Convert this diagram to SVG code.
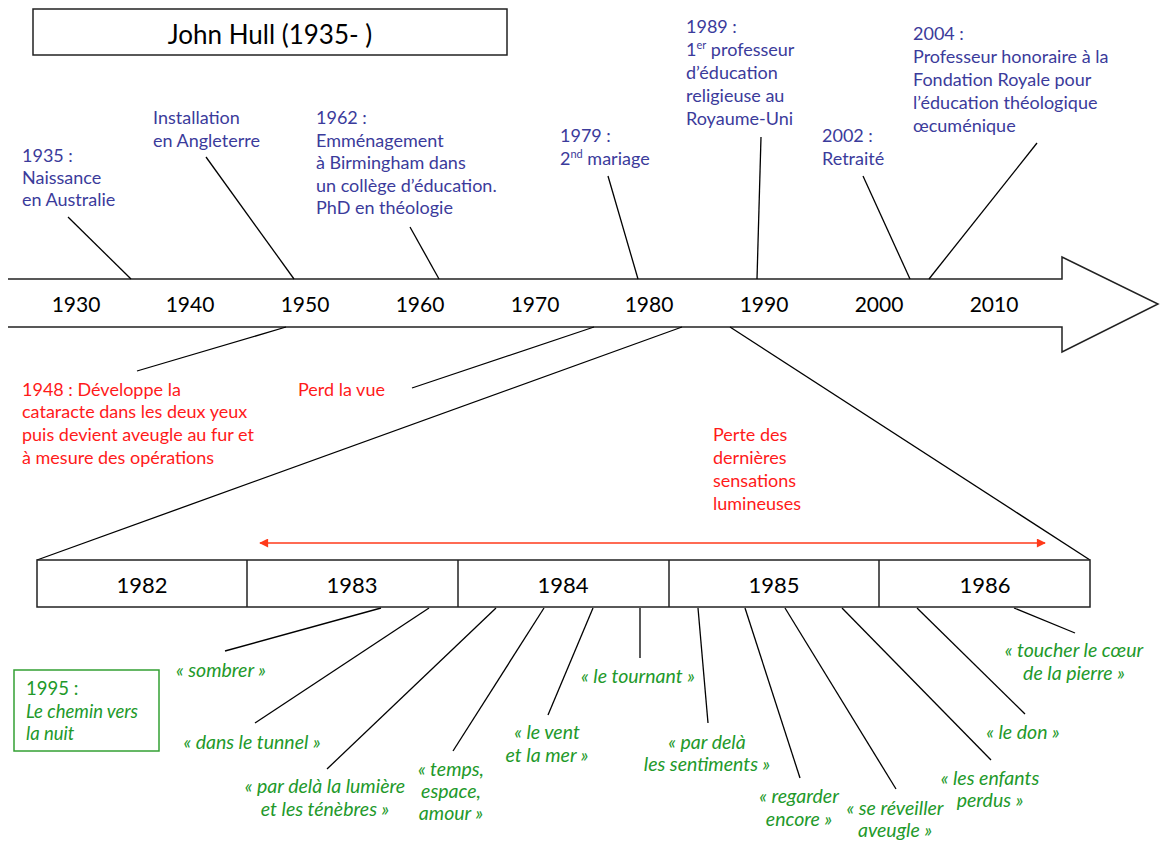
<svg xmlns="http://www.w3.org/2000/svg" width="1160" height="841" viewBox="0 0 1160 841">
<style>
text{font-family:Lato,"Liberation Sans",sans-serif}
.title{font-size:26px;fill:#000}
.yr{font-size:21px;fill:#000;text-anchor:middle}
.yr2{font-size:22px;fill:#000;text-anchor:middle}
.blue{font-size:18px;fill:#3b3b9b}
.red{font-size:18px;fill:#ff1a1a}
.green{font-size:19.5px;fill:#22992a;font-style:italic;text-anchor:middle}
.greenb{font-size:18.5px;fill:#22992a}
.sup{font-size:11px}
.ln{stroke:#000;stroke-width:1.3;fill:none}
.box{stroke:#222;stroke-width:1.5;fill:#fff}
</style>
<defs>
<marker id="ah" viewBox="0 0 10 10" refX="9" refY="5" markerWidth="10" markerHeight="9" markerUnits="userSpaceOnUse" orient="auto-start-reverse">
<path d="M0,0 L10,5 L0,10 z" fill="#ff3a1a"/>
</marker>
</defs>

<g id="title">
<rect x="33" y="9" width="474" height="46" class="box"/>
<text class="title" x="270" y="44" text-anchor="middle">John Hull (1935- )</text>
</g>

<g id="timeline">
<path d="M8,279 H1062 V257 L1158,304 L1062,352 V327 H8" class="box"/>
<text class="yr" x="76" y="312">1930</text>
<text class="yr" x="190" y="312">1940</text>
<text class="yr" x="305" y="312">1950</text>
<text class="yr" x="420" y="312">1960</text>
<text class="yr" x="535" y="312">1970</text>
<text class="yr" x="649" y="312">1980</text>
<text class="yr" x="764" y="312">1990</text>
<text class="yr" x="879" y="312">2000</text>
<text class="yr" x="994" y="312">2010</text>
</g>

<g id="connectors">
<line class="ln" x1="68" y1="217" x2="131" y2="279"/>
<line class="ln" x1="206" y1="157" x2="294" y2="279"/>
<line class="ln" x1="410" y1="227" x2="439" y2="279"/>
<line class="ln" x1="608" y1="176" x2="638" y2="279"/>
<line class="ln" x1="761" y1="137" x2="757" y2="279"/>
<line class="ln" x1="863" y1="176" x2="910" y2="279"/>
<line class="ln" x1="1037" y1="143" x2="929" y2="279"/>
<line class="ln" x1="286" y1="327" x2="137" y2="371"/>
<line class="ln" x1="594" y1="327" x2="412" y2="388"/>
<line class="ln" x1="682" y1="327" x2="37" y2="560"/>
<line class="ln" x1="730" y1="327" x2="1090" y2="560"/>
<line x1="260" y1="543" x2="1045" y2="543" stroke="#ff3a1a" stroke-width="1.5" marker-start="url(#ah)" marker-end="url(#ah)"/>
<line class="ln" x1="381" y1="608" x2="225" y2="651"/>
<line class="ln" x1="429" y1="608" x2="255" y2="723"/>
<line class="ln" x1="496" y1="608" x2="327" y2="769"/>
<line class="ln" x1="544" y1="608" x2="453" y2="751"/>
<line class="ln" x1="593" y1="608" x2="548" y2="715"/>
<line class="ln" x1="640" y1="608" x2="640" y2="658"/>
<line class="ln" x1="698" y1="608" x2="708" y2="723"/>
<line class="ln" x1="745" y1="608" x2="800" y2="778"/>
<line class="ln" x1="785" y1="608" x2="896" y2="789"/>
<line class="ln" x1="842" y1="608" x2="991" y2="760"/>
<line class="ln" x1="917" y1="608" x2="1025" y2="714"/>
<line class="ln" x1="1014" y1="608" x2="1075" y2="633"/>
</g>

<g id="n1935"><text class="blue" x="22" y="162">1935 :</text><text class="blue" x="22" y="184">Naissance</text><text class="blue" x="22" y="206">en Australie</text></g>
<g id="nInstall"><text class="blue" x="153" y="124">Installation</text><text class="blue" x="153" y="147">en Angleterre</text></g>
<g id="n1962"><text class="blue" x="316" y="124">1962 :</text><text class="blue" x="316" y="147">Emménagement</text><text class="blue" x="316" y="169">à Birmingham dans</text><text class="blue" x="316" y="192">un collège d’éducation.</text><text class="blue" x="316" y="214">PhD en théologie</text></g>
<g id="n1979"><text class="blue" x="560" y="142">1979 :</text><text class="blue" x="560" y="165">2<tspan class="sup" dy="-7">nd</tspan><tspan dy="7"> mariage</tspan></text></g>
<g id="n1989"><text class="blue" x="686" y="33">1989 :</text><text class="blue" x="686" y="56">1<tspan class="sup" dy="-7">er</tspan><tspan dy="7"> professeur</tspan></text><text class="blue" x="686" y="79">d’éducation</text><text class="blue" x="686" y="102">religieuse au</text><text class="blue" x="686" y="125">Royaume-Uni</text></g>
<g id="n2002"><text class="blue" x="822" y="142">2002 :</text><text class="blue" x="822" y="165">Retraité</text></g>
<g id="n2004"><text class="blue" x="913" y="40">2004 :</text><text class="blue" x="913" y="63">Professeur honoraire à la</text><text class="blue" x="913" y="86">Fondation Royale pour</text><text class="blue" x="913" y="109">l’éducation théologique</text><text class="blue" x="913" y="132">œcuménique</text></g>

<g id="n1948"><text class="red" x="22" y="396">1948 : Développe la</text><text class="red" x="22" y="418">cataracte dans les deux yeux</text><text class="red" x="22" y="441">puis devient aveugle au fur et</text><text class="red" x="22" y="464">à mesure des opérations</text></g>
<g id="nPerd"><text class="red" x="298" y="396">Perd la vue</text></g>
<g id="nPerte"><text class="red" x="713" y="441">Perte des</text><text class="red" x="713" y="464">dernières</text><text class="red" x="713" y="487">sensations</text><text class="red" x="713" y="510">lumineuses</text></g>

<g id="detail">
<rect x="37" y="560" width="1053" height="47" class="box"/>
<line x1="247" y1="560" x2="247" y2="607" stroke="#222" stroke-width="1.5"/>
<line x1="458" y1="560" x2="458" y2="607" stroke="#222" stroke-width="1.5"/>
<line x1="669" y1="560" x2="669" y2="607" stroke="#222" stroke-width="1.5"/>
<line x1="879" y1="560" x2="879" y2="607" stroke="#222" stroke-width="1.5"/>
<text class="yr2" x="142" y="593">1982</text>
<text class="yr2" x="352" y="593">1983</text>
<text class="yr2" x="563" y="593">1984</text>
<text class="yr2" x="774" y="593">1985</text>
<text class="yr2" x="985" y="593">1986</text>
</g>

<g id="n1995">
<rect x="14" y="670" width="145" height="81" fill="none" stroke="#33a033" stroke-width="1.5"/>
<text class="greenb" x="26" y="695">1995 :</text>
<text class="greenb" x="26" y="718" font-style="italic">Le chemin vers</text>
<text class="greenb" x="26" y="740" font-style="italic">la nuit</text>
</g>
<g id="qSombrer"><text class="green" x="221" y="677">« sombrer »</text></g>
<g id="qTunnel"><text class="green" x="252" y="749">« dans le tunnel »</text></g>
<g id="qLumiere"><text class="green" x="325" y="793">« par delà la lumière</text><text class="green" x="325" y="816">et les ténèbres »</text></g>
<g id="qTemps"><text class="green" x="451" y="776">« temps,</text><text class="green" x="451" y="798">espace,</text><text class="green" x="451" y="820">amour »</text></g>
<g id="qVent"><text class="green" x="547" y="739">« le vent</text><text class="green" x="547" y="762">et la mer »</text></g>
<g id="qTournant"><text class="green" x="638" y="683">« le tournant »</text></g>
<g id="qSentiments"><text class="green" x="707" y="749">« par delà</text><text class="green" x="707" y="771">les sentiments »</text></g>
<g id="qRegarder"><text class="green" x="799" y="803">« regarder</text><text class="green" x="799" y="826">encore »</text></g>
<g id="qReveiller"><text class="green" x="895" y="815">« se réveiller</text><text class="green" x="895" y="837">aveugle »</text></g>
<g id="qEnfants"><text class="green" x="990" y="785">« les enfants</text><text class="green" x="990" y="807">perdus »</text></g>
<g id="qDon"><text class="green" x="1023" y="739">« le don »</text></g>
<g id="qToucher"><text class="green" x="1074" y="657">« toucher le cœur</text><text class="green" x="1074" y="680">de la pierre »</text></g>
</svg>
